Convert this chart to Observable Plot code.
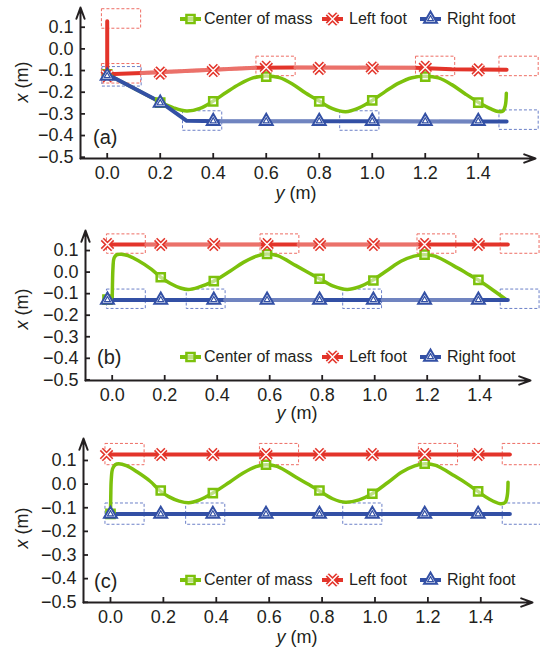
<!DOCTYPE html>
<html><head><meta charset="utf-8">
<script src="https://cdn.jsdelivr.net/npm/d3@7"></script>
<script src="https://cdn.jsdelivr.net/npm/@observablehq/plot@0.6"></script>
<style>
body{margin:0;background:#fff;}
#root{position:relative;width:540px;height:658px;overflow:hidden;font-family:"Liberation Sans",Arial,Helvetica,sans-serif;color:#231f20;}
.pl{position:absolute;left:0;}
.t{position:absolute;white-space:nowrap;line-height:0.8;}
</style></head><body><div id="root"></div>
<script>
// ---------- shared labels / ticks ----------
const seriesNames = ["Center of mass", "Left foot", "Right foot"];
const panelLabels = ["(a)", "(b)", "(c)"];
const ticksX = [0, 0.2, 0.4, 0.6, 0.8, 1.0, 1.2, 1.4];
const ticksY = [0.1, 0, -0.1, -0.2, -0.3, -0.4, -0.5];

// swing (textured) intervals of the foot paths, along y
const leftSwing = [[0.13, 0.56], [0.71, 1.16]];
const rightSwing = [[0.43, 0.78], [1.03, 1.38]];

// ---------- panel (a) ----------
const aComY = [0, 0.1, 0.2, 0.25, 0.3, 0.35, 0.4, 0.45, 0.5, 0.55, 0.6, 0.65, 0.7, 0.75, 0.8, 0.85, 0.9, 0.95, 1.0, 1.05, 1.1, 1.15, 1.2, 1.25, 1.3, 1.35, 1.4, 1.45, 1.475, 1.493, 1.502, 1.506];
const aComX = [-0.117, -0.181, -0.245, -0.272, -0.287, -0.275, -0.241, -0.2, -0.162, -0.134, -0.125, -0.133, -0.163, -0.205, -0.241, -0.276, -0.29, -0.272, -0.238, -0.196, -0.158, -0.133, -0.126, -0.134, -0.165, -0.207, -0.246, -0.278, -0.289, -0.287, -0.262, -0.205];
const aLeftY = [0, 0, 0.13, 0.56, 0.71, 1.16, 1.3, 1.507];
const aLeftX = [0.128, -0.117, -0.111, -0.087, -0.086, -0.087, -0.094, -0.096];
const aRightY = [0, 0.2, 0.3, 0.43, 0.78, 1.03, 1.38, 1.507];
const aRightX = [-0.117, -0.245, -0.332, -0.334, -0.334, -0.334, -0.335, -0.335];
const aMarkY = [0, 0.2, 0.4, 0.6, 0.8, 1.0, 1.2, 1.4];
const aComMarkX = [-0.118, -0.248, -0.242, -0.128, -0.242, -0.238, -0.128, -0.248];
const aLeftMarkX = [-0.125, -0.112, -0.1, -0.085, -0.09, -0.088, -0.085, -0.097];
const aRightMarkX = [-0.125, -0.25, -0.334, -0.334, -0.334, -0.334, -0.334, -0.334];
const aLeftRectStart = [-0.02, -0.02, 0.563, 1.165, 1.48];
const aLeftRectMid = [0.138, -0.115, -0.081, -0.081, -0.081];
const aRightRectStart = [-0.018, 0.286, 0.879, 1.48];
const aRightRectMid = [-0.129, -0.333, -0.333, -0.329];

// ---------- panel (b) ----------
const bComY = [0, 0.001, 0.003, 0.007, 0.018, 0.035, 0.06, 0.1, 0.15, 0.185, 0.22, 0.26, 0.29, 0.33, 0.387, 0.45, 0.5, 0.55, 0.59, 0.63, 0.7, 0.75, 0.79, 0.84, 0.895, 0.94, 0.99, 1.05, 1.1, 1.15, 1.19, 1.23, 1.3, 1.35, 1.393, 1.45, 1.5];
const bComX = [-0.128, -0.06, 0.02, 0.065, 0.081, 0.083, 0.076, 0.053, 0.013, -0.024, -0.052, -0.074, -0.081, -0.07, -0.042, 0.005, 0.045, 0.074, 0.084, 0.076, 0.03, -0.004, -0.031, -0.064, -0.081, -0.069, -0.039, 0.01, 0.05, 0.074, 0.081, 0.074, 0.03, -0.005, -0.036, -0.083, -0.127];
const bLeftY = [-0.018, 0.13, 0.56, 0.71, 1.16, 1.507];
const bLeftX = [0.128, 0.128, 0.128, 0.128, 0.128, 0.128];
const bRightY = [-0.018, 0.43, 0.78, 1.03, 1.38, 1.507];
const bRightX = [-0.129, -0.129, -0.129, -0.129, -0.129, -0.129];
const bMarkY = [-0.018, 0.185, 0.387, 0.59, 0.79, 0.995, 1.19, 1.395];
const bComMarkX = [-0.128, -0.024, -0.042, 0.084, -0.031, -0.039, 0.081, -0.036];
const bLeftMarkX = [0.128, 0.128, 0.128, 0.128, 0.128, 0.128, 0.128, 0.128];
const bRightMarkX = [-0.129, -0.129, -0.129, -0.129, -0.129, -0.129, -0.129, -0.129];
const bLeftRectStart = [-0.02, 0.565, 1.163, 1.48];
const bLeftRectMid = [0.13, 0.13, 0.13, 0.13];
const bRightRectStart = [-0.02, 0.284, 0.88, 1.48];
const bRightRectMid = [-0.126, -0.126, -0.126, -0.126];

// ---------- panel (c) ----------
const cComY = [0, 0.001, 0.003, 0.008, 0.018, 0.031, 0.06, 0.1, 0.15, 0.186, 0.22, 0.26, 0.296, 0.335, 0.387, 0.45, 0.5, 0.55, 0.589, 0.63, 0.7, 0.75, 0.787, 0.84, 0.888, 0.94, 0.989, 1.05, 1.1, 1.15, 1.19, 1.23, 1.3, 1.35, 1.389, 1.43, 1.474, 1.492, 1.5, 1.503];
const cComX = [-0.126, -0.06, 0.02, 0.065, 0.082, 0.086, 0.078, 0.052, 0.012, -0.027, -0.053, -0.072, -0.079, -0.068, -0.038, 0.008, 0.046, 0.074, 0.082, 0.075, 0.03, -0.002, -0.027, -0.062, -0.077, -0.067, -0.041, 0.008, 0.05, 0.077, 0.086, 0.079, 0.035, 0.0, -0.031, -0.062, -0.083, -0.078, -0.05, 0.008];
const cLeftY = [-0.015, 1.51];
const cLeftX = [0.125, 0.125];
const cRightY = [0, 1.51];
const cRightX = [-0.127, -0.127];
const cMarkY = [-0.015, 0.19, 0.387, 0.588, 0.79, 0.99, 1.188, 1.39];
const cComMarkY = [0, 0.19, 0.387, 0.588, 0.79, 0.99, 1.188, 1.39];
const cComMarkX = [-0.126, -0.027, -0.038, 0.082, -0.027, -0.041, 0.086, -0.031];
const cLeftMarkX = [0.125, 0.125, 0.125, 0.125, 0.125, 0.125, 0.125, 0.125];
const cRightMarkX = [-0.127, -0.127, -0.127, -0.127, -0.127, -0.127, -0.127, -0.127];
const cLeftRectStart = [-0.019, 0.565, 1.166, 1.483];
const cLeftRectMid = [0.125, 0.125, 0.125, 0.125];
const cRightRectStart = [-0.019, 0.286, 0.88, 1.483];
const cRightRectMid = [-0.127, -0.127, -0.127, -0.127];

// ---------- styles / layout ----------
const RED = "#e3342a", GREEN = "#7cc10c", BLUE = "#3350a5";
const RED_L = "#ee6d64", BLUE_L = "#6c80c8", INK = "#231f20";
const RECT_LEN = 0.148, RECT_HALF = 0.045;
const FONT = '"Liberation Sans", Arial, Helvetica, sans-serif';

const panels = [
  {top: 0, height: 210, mT: 7, mB: 52, mL: 80, mR: 5, xDom: [-0.1008, 1.616], yDom: [-0.506, 0.191],
   xLab: [296, 193], yLab: [22, 82], pLab: [93, 137], legY: 19, hatch: true,
   d: {comY: aComY, comX: aComX, leftY: aLeftY, leftX: aLeftX, rightY: aRightY, rightX: aRightX,
       markY: aMarkY, comMarkY: aMarkY, comMarkX: aComMarkX, leftMarkX: aLeftMarkX, rightMarkY: aMarkY, rightMarkX: aRightMarkX,
       lrS: aLeftRectStart, lrM: aLeftRectMid, rrS: aRightRectStart, rrM: aRightRectMid}},
  {top: 215, height: 210, mT: 15, mB: 45, mL: 85, mR: 10, xDom: [-0.1017, 1.5935], yDom: [-0.503, 0.193],
   xLab: [297, 413], yLab: [22, 309], pLab: [97, 357], legY: 357, hatch: true,
   d: {comY: bComY, comX: bComX, leftY: bLeftY, leftX: bLeftX, rightY: bRightY, rightX: bRightX,
       markY: bMarkY, comMarkY: bMarkY, comMarkX: bComMarkX, leftMarkX: bLeftMarkX, rightMarkY: bMarkY, rightMarkX: bRightMarkX,
       lrS: bLeftRectStart, lrM: bLeftRectMid, rrS: bRightRectStart, rrM: bRightRectMid}},
  {top: 430, height: 228, mT: 8, mB: 56, mL: 83, mR: 8, xDom: [-0.102, 1.5955], yDom: [-0.501, 0.193],
   xLab: [297, 637], yLab: [22, 528], pLab: [94, 581], legY: 580, hatch: false,
   d: {comY: cComY, comX: cComX, leftY: cLeftY, leftX: cLeftX, rightY: cRightY, rightX: cRightX,
       markY: cMarkY, comMarkY: cComMarkY, comMarkX: cComMarkX, leftMarkX: cLeftMarkX, rightMarkY: cComMarkY, rightMarkX: cRightMarkX,
       lrS: cLeftRectStart, lrM: cLeftRectMid, rrS: cRightRectStart, rrM: cRightRectMid}}
];

const pts = (ys, xs) => ys.map((y, i) => ({y, x: xs[i]}));
function hatchPts(ys, xs, intervals) {
  const out = [];
  intervals.forEach(([a, b], g) => ys.forEach((y, i) => { if (y >= a - 1e-9 && y <= b + 1e-9) out.push({y, x: xs[i], g}); }));
  return out;
}
const fmt = d3.format(".1f");
const root = document.getElementById("root");

function txt(html, x, y, size, extra = {}) {
  const el = document.createElement("div");
  el.className = "t";
  el.innerHTML = html;
  el.style.fontSize = size + "px";
  el.style.left = x + "px";
  el.style.top = y + "px";
  el.style.transform = extra.transform || "translate(-50%,-50%)";
  root.appendChild(el);
  return el;
}

const SYM = {
  square: d3.symbol(d3.symbolSquare, Math.PI * 4.6 * 4.6)(),
  times: d3.symbol(d3.symbolTimes, Math.PI * 4.8 * 4.8)(),
  tri: d3.symbol(d3.symbolTriangle, Math.PI * 4.8 * 4.8)(),
  tri2: d3.symbol(d3.symbolTriangle, Math.PI * 2.2 * 2.2)()
};
function legendIcon(x0, yc, kind) {
  const svg = d3.create("svg").attr("width", 24).attr("height", 18)
    .style("position", "absolute").style("left", x0 + "px").style("top", (yc - 9) + "px").style("overflow", "visible");
  const col = kind === "com" ? GREEN : kind === "left" ? RED : BLUE;
  svg.append("line").attr("x1", 1).attr("x2", 22).attr("y1", 9).attr("y2", 9).attr("stroke", col).attr("stroke-width", 4);
  const g = svg.append("g").attr("transform", "translate(11.5,9)");
  if (kind === "com") g.append("path").attr("d", SYM.square).attr("fill", "white").attr("fill-opacity", 0.5).attr("stroke", col).attr("stroke-width", 2.5);
  if (kind === "left") {
    g.append("path").attr("d", SYM.times).attr("stroke", col).attr("stroke-width", 4.5);
    g.append("path").attr("d", SYM.times).attr("stroke", "white").attr("stroke-width", 1.4);
  }
  if (kind === "right") {
    g.append("path").attr("d", SYM.tri).attr("fill", "white").attr("stroke", col).attr("stroke-width", 2);
    g.append("path").attr("d", SYM.tri2).attr("fill", "none").attr("stroke", col).attr("stroke-width", 1.2);
  }
  root.appendChild(svg.node());
}

panels.forEach((L, pi) => {
  const D = L.d;
  const lr = D.lrS.map((s, i) => ({y1: s, y2: s + RECT_LEN, xm: D.lrM[i]}));
  const rr = D.rrS.map((s, i) => ({y1: s, y2: s + RECT_LEN, xm: D.rrM[i]}));
  const rectOpts = (c) => ({x1: "y1", x2: "y2", y1: d => d.xm - RECT_HALF, y2: d => d.xm + RECT_HALF,
                            fill: "none", stroke: c, strokeWidth: 1, strokeDasharray: "3,2"});
  const hatchOpts = {x: "y", y: "x", z: "g", stroke: "white", strokeWidth: 4, strokeDasharray: "1,1.5", strokeOpacity: 0.3};
  const marks = [
    Plot.rect(lr, rectOpts(RED_L)),
    Plot.rect(rr, rectOpts(BLUE_L)),
    Plot.line(pts(D.comY, D.comX), {x: "y", y: "x", curve: "catmull-rom", stroke: GREEN, strokeWidth: 3.5}),
    Plot.line(pts(D.leftY, D.leftX), {x: "y", y: "x", stroke: RED, strokeWidth: 4}),
    Plot.line(pts(D.rightY, D.rightX), {x: "y", y: "x", stroke: BLUE, strokeWidth: 4}),
  ];
  if (L.hatch) {
    marks.push(Plot.line(hatchPts(D.leftY, D.leftX, leftSwing), hatchOpts));
    marks.push(Plot.line(hatchPts(D.rightY, D.rightX, rightSwing), hatchOpts));
  }
  marks.push(
    Plot.dot(pts(D.comMarkY, D.comMarkX), {x: "y", y: "x", symbol: "square", r: 4.6, stroke: GREEN, strokeWidth: 2.5, fill: "white", fillOpacity: 0.5}),
    Plot.dot(pts(D.markY, D.leftMarkX), {x: "y", y: "x", symbol: "times", r: 4.8, stroke: RED, strokeWidth: 4.5}),
    Plot.dot(pts(D.markY, D.leftMarkX), {x: "y", y: "x", symbol: "times", r: 4.8, stroke: "white", strokeWidth: 1.4}),
    Plot.dot(pts(D.rightMarkY, D.rightMarkX), {x: "y", y: "x", symbol: "triangle", r: 4.8, stroke: BLUE, strokeWidth: 2, fill: "white"}),
    Plot.dot(pts(D.rightMarkY, D.rightMarkX), {x: "y", y: "x", symbol: "triangle", r: 2.2, stroke: BLUE, strokeWidth: 1.2, fill: "none"}),
    Plot.axisX({ticks: ticksX, tickSize: -5, tickPadding: 13, tickFormat: fmt, label: null, strokeWidth: 1.8}),
    Plot.axisY({ticks: ticksY, tickSize: -5, tickPadding: 12, tickFormat: fmt, label: null, strokeWidth: 1.8}),
    Plot.arrow([0], {x1: () => L.xDom[0], x2: () => L.xDom[1], y1: () => L.yDom[0], y2: () => L.yDom[0],
                     stroke: INK, strokeWidth: 2, headLength: 9, headAngle: 40}),
    Plot.arrow([0], {x1: () => L.xDom[0], x2: () => L.xDom[0], y1: () => L.yDom[0], y2: () => L.yDom[1],
                     stroke: INK, strokeWidth: 2, headLength: 9, headAngle: 40})
  );
  const svg = Plot.plot({
    width: 540, height: L.height,
    marginTop: L.mT, marginBottom: L.mB, marginLeft: L.mL, marginRight: L.mR,
    x: {domain: L.xDom}, y: {domain: L.yDom},
    style: {fontFamily: FONT, fontSize: "18px", color: INK, background: "transparent", overflow: "visible"},
    marks
  });
  svg.classList.add("pl");
  svg.style.top = L.top + "px";
  root.appendChild(svg);

  // axis titles and panel label
  txt('<i>y</i> (m)', L.xLab[0], L.xLab[1], 18);
  txt('<i>x</i> (m)', L.yLab[0], L.yLab[1], 18, {transform: "translate(-50%,-50%) rotate(-90deg)"});
  txt(panelLabels[pi], L.pLab[0], L.pLab[1], 20, {transform: "translate(0,-50%)"});

  // legend
  const items = [["com", 179, 204], ["left", 321, 349], ["right", 419, 447]];
  items.forEach(([k, ix, tx], j) => {
    legendIcon(ix, L.legY, k);
    txt(seriesNames[j], tx, L.legY, 16, {transform: "translate(0,-50%)"});
  });
});
</script></body></html>
